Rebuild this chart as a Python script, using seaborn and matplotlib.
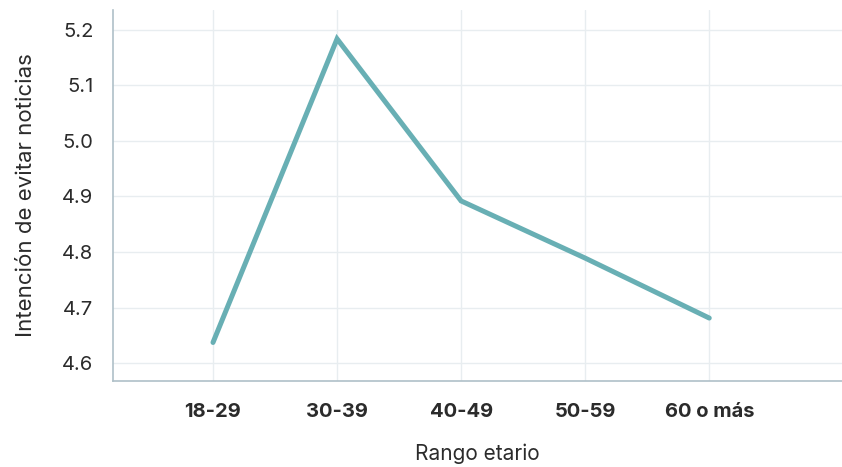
import matplotlib
matplotlib.use("Agg")
import matplotlib.pyplot as plt
import seaborn as sns
import pandas as pd

categories = ["18-29", "30-39", "40-49", "50-59", "60 o más"]
values = [4.637, 5.184, 4.892, 4.789, 4.681]
yticks = [4.6, 4.7, 4.8, 4.9, 5.0, 5.1, 5.2]

sns.set_theme(style="whitegrid")
plt.rcParams['font.family'] = ['Inter', 'DejaVu Sans']

df = pd.DataFrame({"Rango etario": categories, "valor": values})
df["x"] = range(len(categories))

fig = plt.figure(figsize=(8.42, 4.67), dpi=100)
ax = fig.add_axes([113/842, 86/467, 1 - 113/842, (381-10)/467])
sns.lineplot(data=df, x="x", y="valor", ax=ax, color="#68AFB4", linewidth=3.6,
             solid_capstyle="round", solid_joinstyle="miter")

ax.set_xticks(range(len(categories)))
ax.set_xticklabels(categories, fontsize=14.5, fontweight="bold", color="#2b2b2b")
ax.set_yticks(yticks)
ax.set_yticklabels([f"{v:.1f}" for v in yticks], fontsize=14.5, color="#2b2b2b")
ax.set_xlim(-0.806, 5.07)
ax.set_ylim(4.5676, 5.236)
ax.tick_params(axis="both", length=0)
ax.tick_params(axis="x", pad=16)
ax.tick_params(axis="y", pad=14)
ax.set_xlabel("Rango etario", fontsize=15, color="#2b2b2b", labelpad=16)
ax.set_ylabel("Intención de evitar noticias", fontsize=16, color="#2b2b2b", labelpad=19)
ax.grid(True, color="#E8EDF0", linewidth=1)
for s in ["top", "right"]:
    ax.spines[s].set_visible(False)
for s in ["left", "bottom"]:
    ax.spines[s].set_color("#AFC0C8")
    ax.spines[s].set_linewidth(1.2)

fig.savefig("out.png", dpi=100)
